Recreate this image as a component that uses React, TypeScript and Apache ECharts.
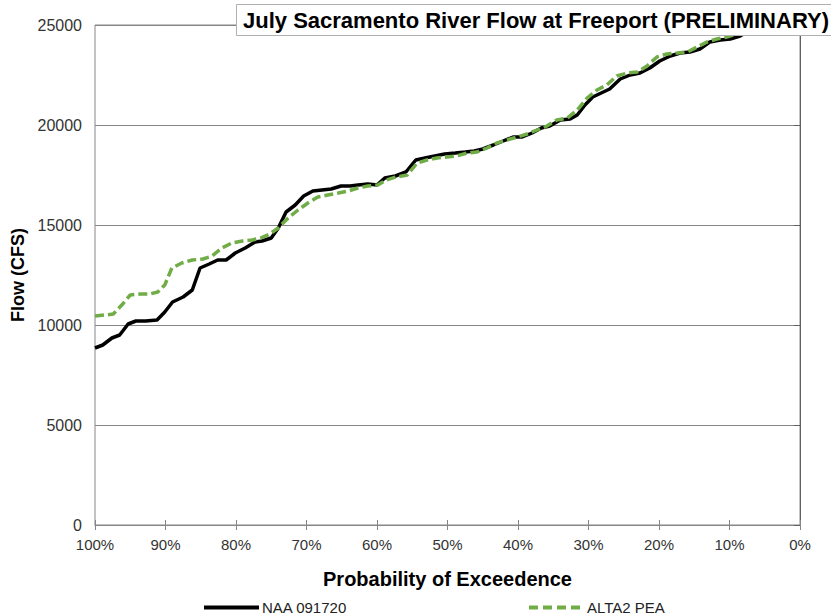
import React, { useEffect, useRef } from "react";
import * as echarts from "echarts";

const naaExceedance = [
  100, 98.9, 97.6, 96.5, 95.3, 94.2, 92.8, 91.2, 90.1, 89, 87.5, 86.2, 85.1, 83.8, 82.6, 81.4,
  80.1, 78.7, 77.3, 76.3, 75, 74, 72.9, 71.6, 70.4, 69.1, 67.8, 66.5, 65.1, 63.8, 62.7, 61.3,
  60, 58.9, 57.4, 55.9, 54.5, 53.2, 51.8, 50.4, 48.9, 47.5, 46.2, 45, 43.5, 42.1, 40.7, 39.4,
  38, 36.7, 35.5, 34, 32.6, 31.6, 30.5, 29.4, 28.2, 27, 25.5, 24.1, 22.7, 21.3, 19.9, 18.4,
  17, 15.6, 14.2, 12.8, 11.3, 9.9, 8.5, 7.1, 5.7, 4.3, 2.8, 1.4,
];
const naaFlow = [
  8850, 9000, 9350, 9500, 10050, 10200, 10200, 10250, 10650, 11150, 11400, 11750, 12850, 13050, 13250, 13250,
  13600, 13850, 14150, 14200, 14350, 14850, 15650, 16000, 16450, 16700, 16750, 16800, 16950, 16950, 17000, 17050,
  17000, 17350, 17450, 17650, 18250, 18350, 18450, 18550, 18600, 18650, 18700, 18800, 19000, 19200, 19400, 19400,
  19600, 19850, 19950, 20250, 20300, 20500, 21000, 21400, 21600, 21800, 22300, 22500, 22600, 22850, 23200, 23450,
  23600, 23650, 23800, 24150, 24250, 24300, 24450, 24750, 24950, 25250, 25500, 25750,
];

const altExceedance = [
  100, 98.6, 97.4, 96.2, 95, 93.6, 92.2, 91.1, 90.1, 89.1, 87.7, 86.2, 84.7, 83.4, 82, 80.6,
  79.1, 77.7, 76.5, 75.2, 74, 72.6, 71.2, 69.8, 68.4, 67, 65.5, 64.1, 62.7, 61.3, 59.9, 58.7,
  57.3, 55.7, 54.3, 52.9, 51.5, 50.1, 48.7, 47.2, 45.8, 44.4, 43, 41.6, 40.1, 38.7, 37.3, 35.9,
  34.5, 33, 31.6, 30.2, 28.8, 27.4, 26, 24.5, 23.1, 21.7, 20.3, 18.9, 17.4, 16, 14.6, 13.2,
  11.8, 10.4, 8.9, 7.5, 6.1, 4.6, 3.2, 1.6,
];
const altFlow = [
  10450, 10500, 10550, 11000, 11500, 11550, 11550, 11650, 12000, 12850, 13100, 13250, 13300, 13450, 13850, 14100,
  14200, 14250, 14350, 14550, 14850, 15350, 15750, 16100, 16400, 16500, 16600, 16700, 16850, 16950, 17000, 17250,
  17400, 17500, 18100, 18250, 18350, 18400, 18450, 18600, 18650, 18850, 19100, 19250, 19400, 19550, 19750, 19950,
  20250, 20350, 20750, 21350, 21750, 22000, 22450, 22600, 22650, 22950, 23400, 23550, 23600, 23650, 23900, 24150,
  24300, 24400, 24550, 24750, 25000, 25300, 25550, 25800,
];

const seriesNames = ["NAA 091720", "ALTA2 PEA"];
const chartTitle = "July Sacramento River Flow at Freeport (PRELIMINARY)";
const xAxisTitle = "Probability of Exceedence";
const yAxisTitle = "Flow (CFS)";

export default function App() {
  const ref = useRef<HTMLDivElement>(null);
  useEffect(() => {
    if (!ref.current) return;
    const chart = echarts.init(ref.current, undefined, { renderer: "svg" });
    const sans = "'Liberation Sans', Arial, sans-serif";
    const axisGray = "#868686";
    const green = "#70AD47";
    const naaData = naaExceedance.map((p, i) => [p, naaFlow[i]]);
    const altData = altExceedance.map((p, i) => [p, altFlow[i]]);
    const legendCommon = {
      top: 595,
      itemWidth: 55,
      itemHeight: 10,
      textStyle: { fontFamily: sans, fontSize: 15, color: "#222", padding: [0, 0, 0, -2] },
      itemStyle: { color: "transparent", opacity: 0, borderWidth: 0 },
    };
    chart.setOption({
      animation: false,
      backgroundColor: "#ffffff",
      title: {
        text: chartTitle,
        left: 236,
        top: 4,
        padding: [5, 8, 5, 7],
        backgroundColor: "#ffffff",
        borderColor: "#b0b0b0",
        borderWidth: 1,
        textStyle: { fontFamily: sans, fontWeight: "bold", fontSize: 22, color: "#000" },
        z: 10,
      },
      grid: {
        left: 95,
        right: 31,
        top: 25,
        bottom: 91,
        show: true,
        borderColor: axisGray,
        borderWidth: 1,
        backgroundColor: "transparent",
      },
      legend: [
        {
          ...legendCommon,
          data: [seriesNames[0]],
          left: 197,
          lineStyle: { width: 4, color: "#000" },
        },
        {
          ...legendCommon,
          data: [seriesNames[1]],
          left: 522,
          lineStyle: { width: 4, color: green, type: [9, 5] },
        },
      ],
      xAxis: [
        {
          type: "value",
          min: 0,
          max: 100,
          interval: 10,
          inverse: true,
          name: xAxisTitle,
          nameLocation: "middle",
          nameGap: 44,
          nameTextStyle: { fontFamily: sans, fontWeight: "bold", fontSize: 20, color: "#000" },
          axisLine: { show: true, lineStyle: { color: axisGray, width: 1 } },
          axisTick: { show: true, length: 5, lineStyle: { color: axisGray } },
          axisLabel: {
            formatter: (v: number) => `${v}%`,
            fontFamily: sans,
            fontSize: 15,
            color: "#333",
            margin: 12,
          },
          splitLine: { show: false },
        },
        {
          type: "value",
          min: 0,
          max: 100,
          interval: 10,
          inverse: true,
          position: "bottom",
          axisLine: { show: false },
          axisTick: { show: true, inside: true, length: 5, lineStyle: { color: axisGray } },
          axisLabel: { show: false },
          splitLine: { show: false },
        },
      ],
      yAxis: {
        type: "value",
        min: 0,
        max: 25000,
        interval: 5000,
        name: yAxisTitle,
        nameLocation: "middle",
        nameGap: 66,
        nameTextStyle: { fontFamily: sans, fontWeight: "bold", fontSize: 18, color: "#000" },
        axisLine: { show: true, lineStyle: { color: "#606060", width: 1 } },
        axisTick: { show: true, length: 6, lineStyle: { color: "#606060" } },
        axisLabel: {
          formatter: (v: number) => String(v),
          fontFamily: sans,
          fontSize: 16,
          color: "#333",
          margin: 13,
        },
        splitLine: { show: true, lineStyle: { color: axisGray, width: 1 } },
      },
      series: [
        {
          name: seriesNames[0],
          type: "line",
          data: naaData,
          showSymbol: false,
          symbol: "none",
          clip: true,
          lineStyle: { color: "#000000", width: 3.5 },
          itemStyle: { color: "#000000" },
          z: 3,
        },
        {
          name: seriesNames[1],
          type: "line",
          data: altData,
          showSymbol: false,
          symbol: "none",
          clip: true,
          lineStyle: { color: green, width: 3.5, type: [9, 4] },
          itemStyle: { color: green },
          z: 4,
        },
      ],
    });
    return () => chart.dispose();
  }, []);
  return (
    <div
      ref={ref}
      style={{ position: "fixed", left: 0, top: 0, width: 831, height: 616 }}
    />
  );
}
